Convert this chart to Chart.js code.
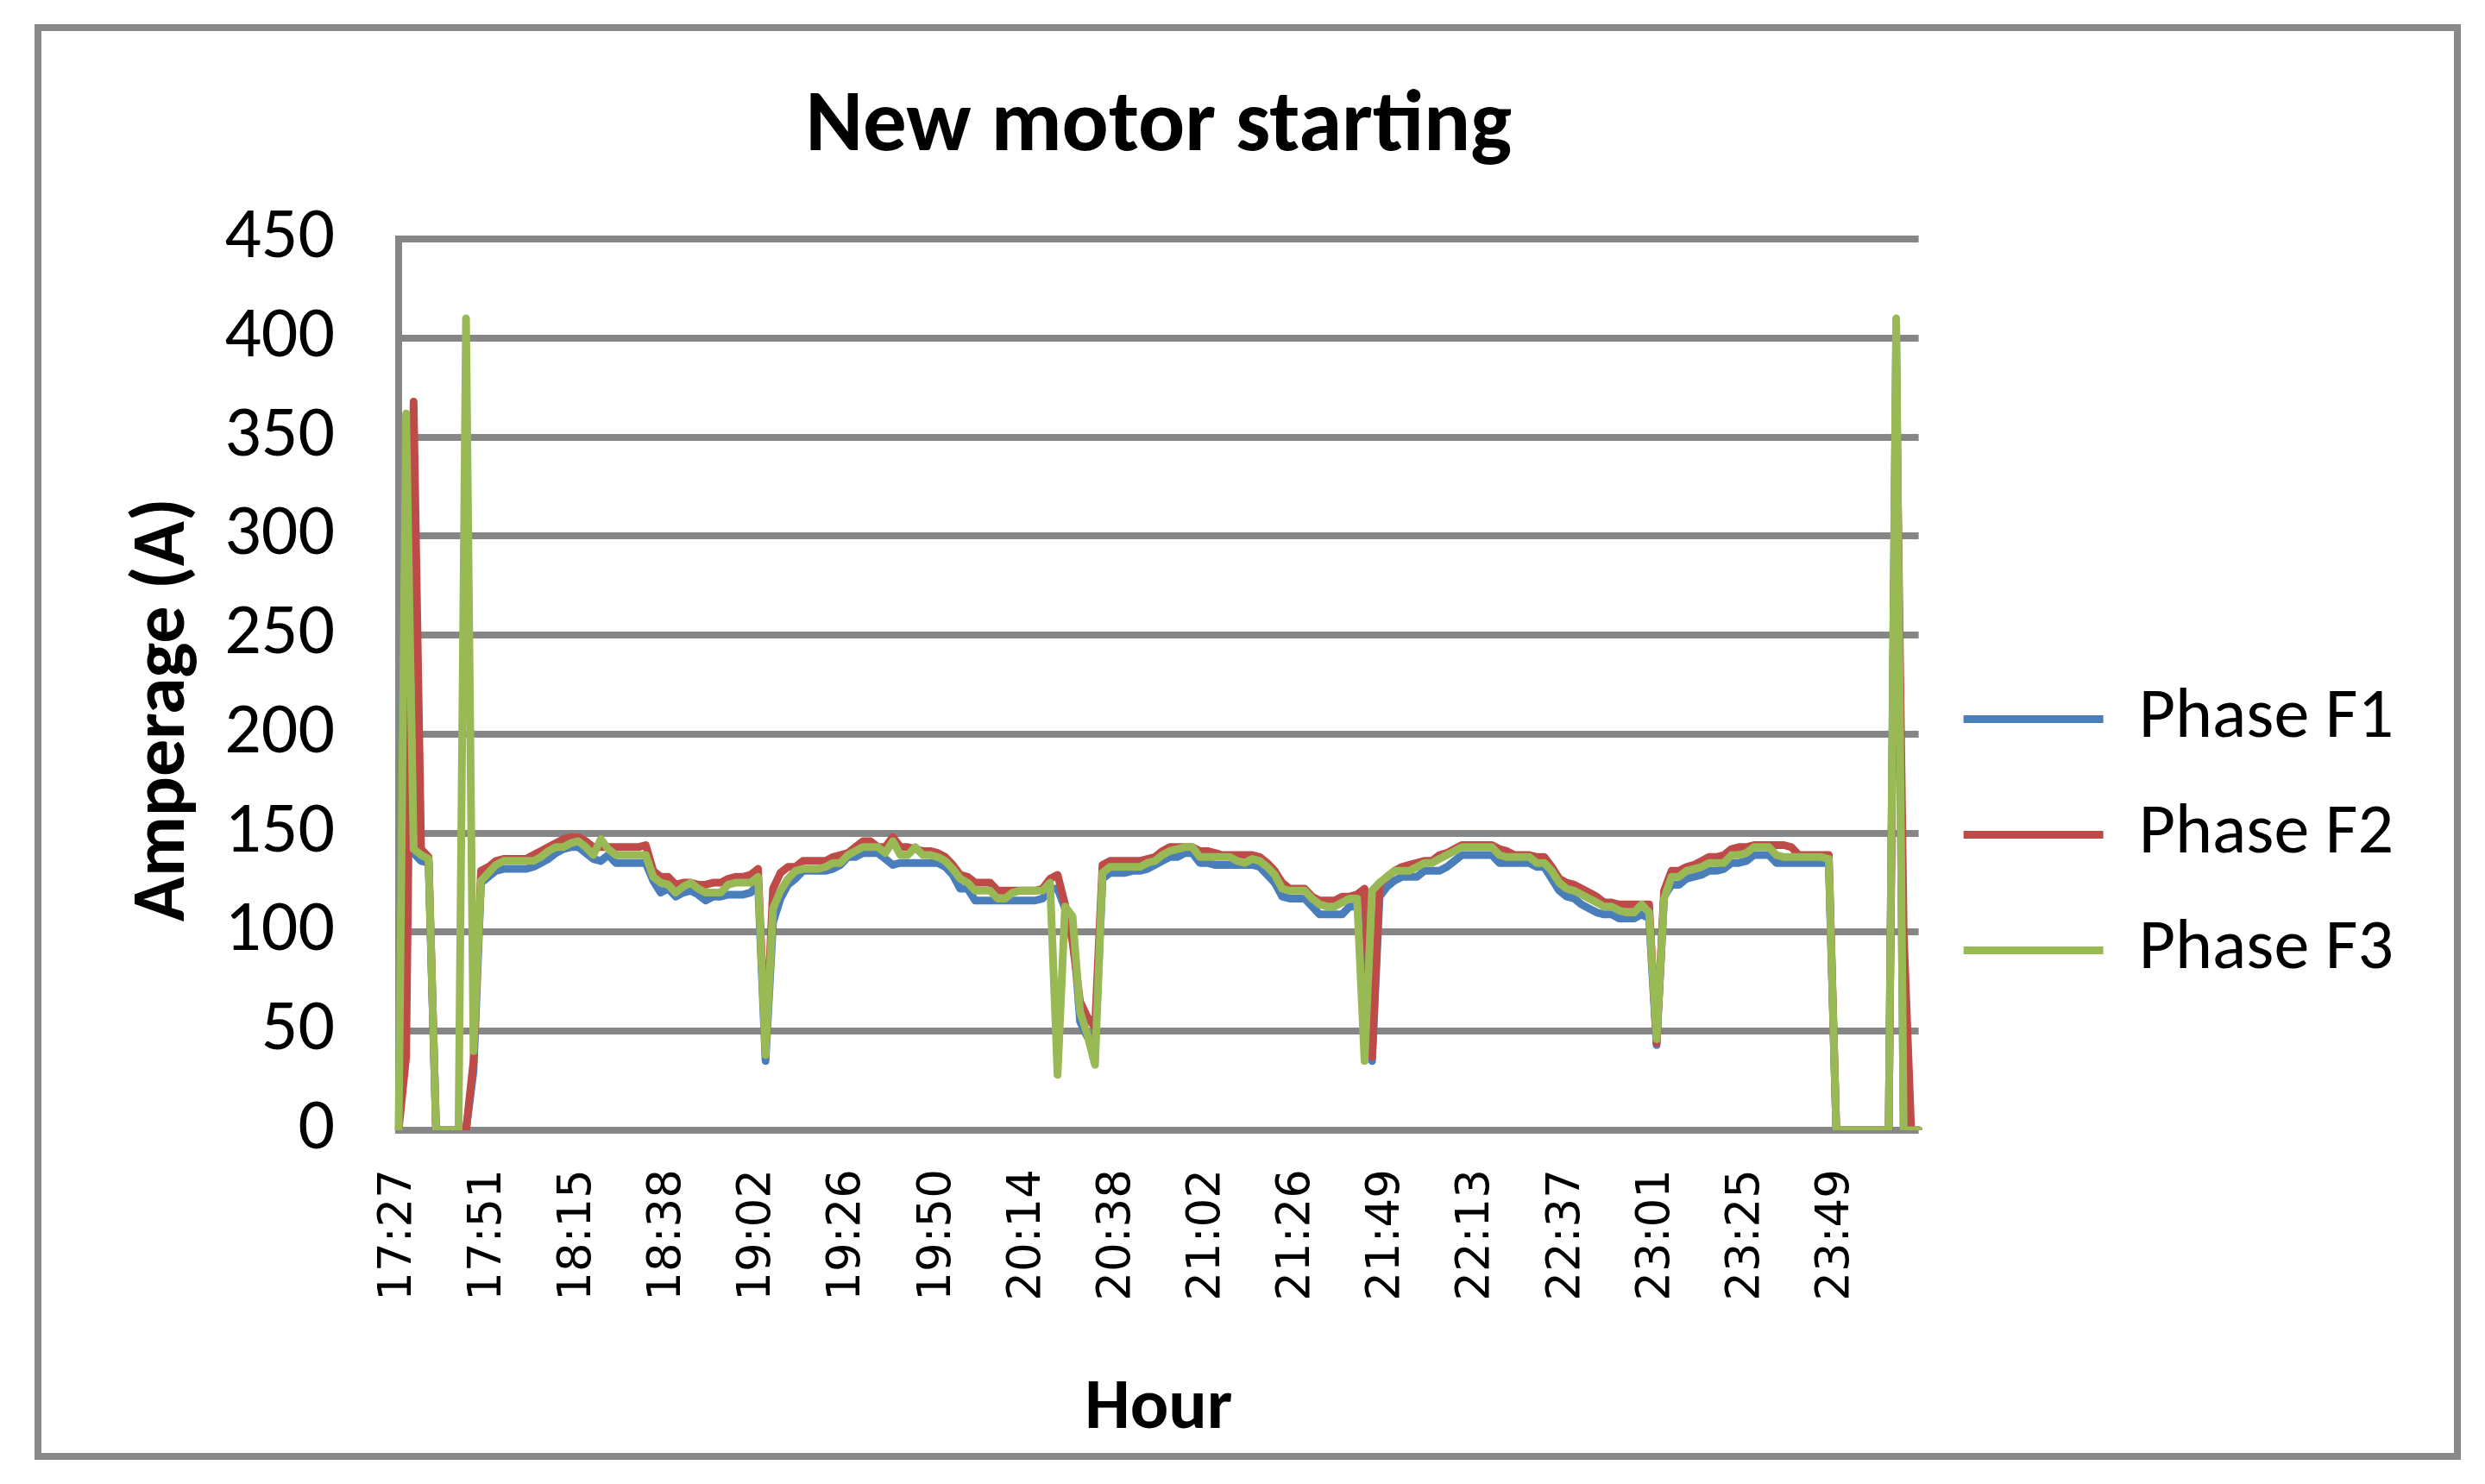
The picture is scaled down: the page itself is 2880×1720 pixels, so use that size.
<!DOCTYPE html>
<html>
<head>
<meta charset="utf-8">
<title>New motor starting</title>
<script src="https://cdn.jsdelivr.net/npm/chart.js@4.4.0/dist/chart.umd.min.js"></script>
<style>
  html, body { margin: 0; padding: 0; background: #fff; }
  #wrap { width: 2880px; height: 1720px; }
</style>
</head>
<body>
<div id="wrap"><canvas id="motorChart" width="2880" height="1720"></canvas></div>
<script>
// hour labels shown on the axis, one every 12 readings
var tickLabels = ['17:27', '17:51', '18:15', '18:38', '19:02', '19:26', '19:50', '20:14', '20:38',
                  '21:02', '21:26', '21:49', '22:13', '22:37', '23:01', '23:25', '23:49'];
var pointsPerTick = 12;

// amperage per reading (A), 12 readings per row
var phaseF1 = [
    0, 360, 140, 136, 135,   0,   0,   0,   0,   0,  30, 125,
  128, 131, 132, 132, 132, 132, 133, 135, 137, 140, 142, 143,
  143, 140, 137, 136, 139, 135, 135, 135, 135, 135, 126, 120,
  122, 118, 120, 121, 119, 116, 118, 118, 119, 119, 119, 120,
  124,  35, 105, 117, 124, 127, 131, 131, 131, 131, 132, 134,
  138, 138, 140, 140, 140, 137, 134, 135, 135, 135, 135, 135,
  135, 133, 129, 122, 122, 116, 116, 116, 116, 116, 116, 116,
  116, 116, 117, 122, 122, 112, 105,  55,  47,  42, 127, 130,
  130, 130, 131, 131, 132, 134, 136, 138, 138, 140, 140, 135,
  135, 134, 134, 134, 134, 134, 134, 133, 129, 125, 118, 117,
  117, 117, 113, 109, 109, 109, 109, 113, 113, 117,  35, 118,
  123, 126, 128, 128, 128, 131, 131, 131, 133, 136, 139, 139,
  139, 139, 139, 135, 135, 135, 135, 135, 133, 133, 127, 121,
  118, 117, 114, 112, 110, 109, 109, 107, 107, 107, 109, 107,
   43, 118, 124, 124, 127, 128, 129, 131, 131, 132, 135, 135,
  136, 139, 139, 139, 135, 135, 135, 135, 135, 135, 135, 135,
    0,   0,   0,   0,   0,   0,   0,   0, 400,   0,   0,   0
];
var phaseF2 = [
    0,  37, 368, 142, 138,   0,   0,   0,   0,   0,  35, 131,
  133, 136, 137, 137, 137, 137, 139, 141, 143, 145, 147, 148,
  148, 146, 143, 143, 143, 143, 143, 143, 143, 144, 131, 128,
  128, 124, 125, 125, 124, 124, 125, 125, 127, 128, 128, 129,
  132,  40, 122, 130, 133, 133, 136, 136, 136, 136, 138, 139,
  140, 143, 146, 146, 143, 143, 148, 143, 143, 142, 141, 141,
  140, 138, 134, 129, 128, 125, 125, 125, 121, 121, 121, 121,
  121, 121, 122, 127, 129, 114,  95,  65,  57,  52, 134, 136,
  136, 136, 136, 136, 137, 138, 141, 143, 143, 143, 143, 141,
  141, 140, 139, 139, 139, 139, 139, 138, 135, 131, 125, 122,
  122, 122, 118, 116, 116, 116, 118, 118, 119, 122,  37, 124,
  128, 131, 133, 134, 135, 136, 136, 139, 140, 142, 144, 144,
  144, 144, 144, 142, 141, 139, 139, 139, 138, 138, 133, 127,
  125, 124, 122, 120, 118, 115, 115, 114, 114, 114, 114, 114,
   44, 121, 131, 131, 133, 134, 136, 138, 138, 139, 142, 143,
  143, 144, 144, 144, 144, 144, 143, 139, 139, 139, 139, 139,
    0,   0,   0,   0,   0,   0,   0,   0, 380, 100,   0,   0
];
var phaseF3 = [
    0, 362, 142, 139, 137,   0,   0,   0,   0, 410,  40, 126,
  130, 134, 136, 136, 136, 136, 136, 138, 141, 143, 143, 145,
  146, 143, 139, 147, 142, 139, 139, 139, 139, 139, 128, 125,
  124, 120, 123, 125, 122, 120, 120, 120, 124, 125, 125, 125,
  128,  38, 112, 121, 127, 131, 132, 132, 132, 133, 135, 135,
  139, 141, 143, 143, 143, 140, 146, 139, 139, 143, 139, 139,
  138, 136, 132, 127, 125, 121, 121, 121, 117, 117, 120, 121,
  121, 121, 121, 125,  28, 113, 108,  60,  48,  33, 130, 133,
  133, 133, 133, 133, 135, 136, 139, 141, 142, 143, 143, 138,
  138, 138, 138, 138, 136, 135, 137, 136, 133, 129, 122, 121,
  121, 121, 117, 114, 113, 113, 115, 117, 117,  35, 121, 125,
  128, 131, 131, 131, 133, 135, 135, 137, 139, 141, 143, 143,
  143, 143, 143, 139, 138, 138, 138, 138, 135, 135, 131, 125,
  122, 121, 119, 117, 115, 113, 113, 111, 110, 110, 114, 110,
   46, 117, 128, 128, 131, 132, 133, 135, 135, 135, 139, 139,
  140, 143, 143, 143, 139, 138, 138, 138, 138, 138, 138, 137,
    0,   0,   0,   0,   0,   0,   0,   0, 410,   0,   0,   0
];
var seriesNames = ['Phase F1', 'Phase F2', 'Phase F3'];
var seriesColors = ['#4A7EBB', '#BE4B48', '#98B954'];

// one category per reading, only every 12th one carries a label
var hours = phaseF1.map(function(v, i) {
    return i % pointsPerTick === 0 ? tickLabels[i / pointsPerTick] : '';
});

var calibri = "Carlito, Lato, sans-serif";
var gridGrey = '#868686';
var plotLeft = 462;
var plotBottom = 1310;
var pad = { top: 40, left: 50, right: 96, bottom: 20 };

function makeSet(name, values, color, order) {
    return {
        label: name,
        data: values,
        borderColor: color,
        backgroundColor: color,
        borderWidth: 9,
        pointRadius: 0,
        pointHoverRadius: 0,
        tension: 0,
        borderJoinStyle: 'round',
        borderCapStyle: 'round',
        order: order   // F3 ends up on top, like in the original
    };
}

var frame = {
    id: 'frame',
    beforeDraw: function(chart) {
        var ctx = chart.ctx;
        ctx.save();
        ctx.fillStyle = '#fff';
        ctx.fillRect(0, 0, chart.width, chart.height);
        ctx.strokeStyle = '#898989';
        ctx.lineWidth = 8;
        ctx.strokeRect(44, 32, 2804, 1656);
        ctx.restore();
    }
};

new Chart(document.getElementById('motorChart'), {
    type: 'line',
    data: {
        labels: hours,
        datasets: [
            makeSet(seriesNames[0], phaseF1, seriesColors[0], 3),
            makeSet(seriesNames[1], phaseF2, seriesColors[1], 2),
            makeSet(seriesNames[2], phaseF3, seriesColors[2], 1)
        ]
    },
    options: {
        responsive: false,
        devicePixelRatio: 1,
        animation: false,
        layout: { padding: pad },
        plugins: {
            title: {
                display: true,
                text: 'New motor starting',
                fullSize: false,
                color: '#000',
                font: { family: calibri, size: 101, weight: 'bold' },
                padding: { top: 48, bottom: 68 }
            },
            legend: {
                position: 'right',
                fullSize: false,
                title: { display: true, text: '', font: { size: 10 }, padding: { top: 0, bottom: 336 } },
                labels: {
                    color: '#000',
                    font: { family: calibri, size: 82 },
                    boxWidth: 162,
                    boxHeight: 9,
                    padding: 52,
                    sort: function(a, b) { return a.datasetIndex - b.datasetIndex; },
                    generateLabels: function(chart) {
                        return Chart.defaults.plugins.legend.labels.generateLabels(chart).map(function(item) {
                            item.lineWidth = 0;
                            item.fillStyle = item.strokeStyle;
                            return item;
                        });
                    }
                }
            },
            tooltip: { enabled: false }
        },
        scales: {
            x: {
                grid: { display: false, drawTicks: false },
                border: { display: false },
                ticks: {
                    autoSkip: false,
                    minRotation: 90,
                    maxRotation: 90,
                    padding: 45,
                    color: '#000',
                    font: { family: 'DejaVu Sans', size: 53 }
                },
                title: {
                    display: true,
                    text: 'Hour',
                    color: '#000',
                    font: { family: calibri, size: 83, weight: 'bold' },
                    padding: { top: 0, bottom: 16 }
                },
                afterFit: function(scale) { scale.height = 1720 - plotBottom - pad.bottom; }
            },
            y: {
                min: 0,
                max: 450,
                ticks: {
                    stepSize: 50,
                    padding: 74,
                    color: '#000',
                    font: { family: calibri, size: 84 }
                },
                grid: { color: gridGrey, lineWidth: 8, drawTicks: false },
                border: { display: true, color: gridGrey, width: 8 },
                title: {
                    display: true,
                    text: 'Amperage (A)   ',
                    color: '#000',
                    font: { family: calibri, size: 86, weight: 'bold' },
                    padding: { top: 90, bottom: 0 }
                },
                afterFit: function(scale) { scale.width = plotLeft - pad.left; }
            }
        }
    },
    plugins: [frame]
});
</script>
</body>
</html>
